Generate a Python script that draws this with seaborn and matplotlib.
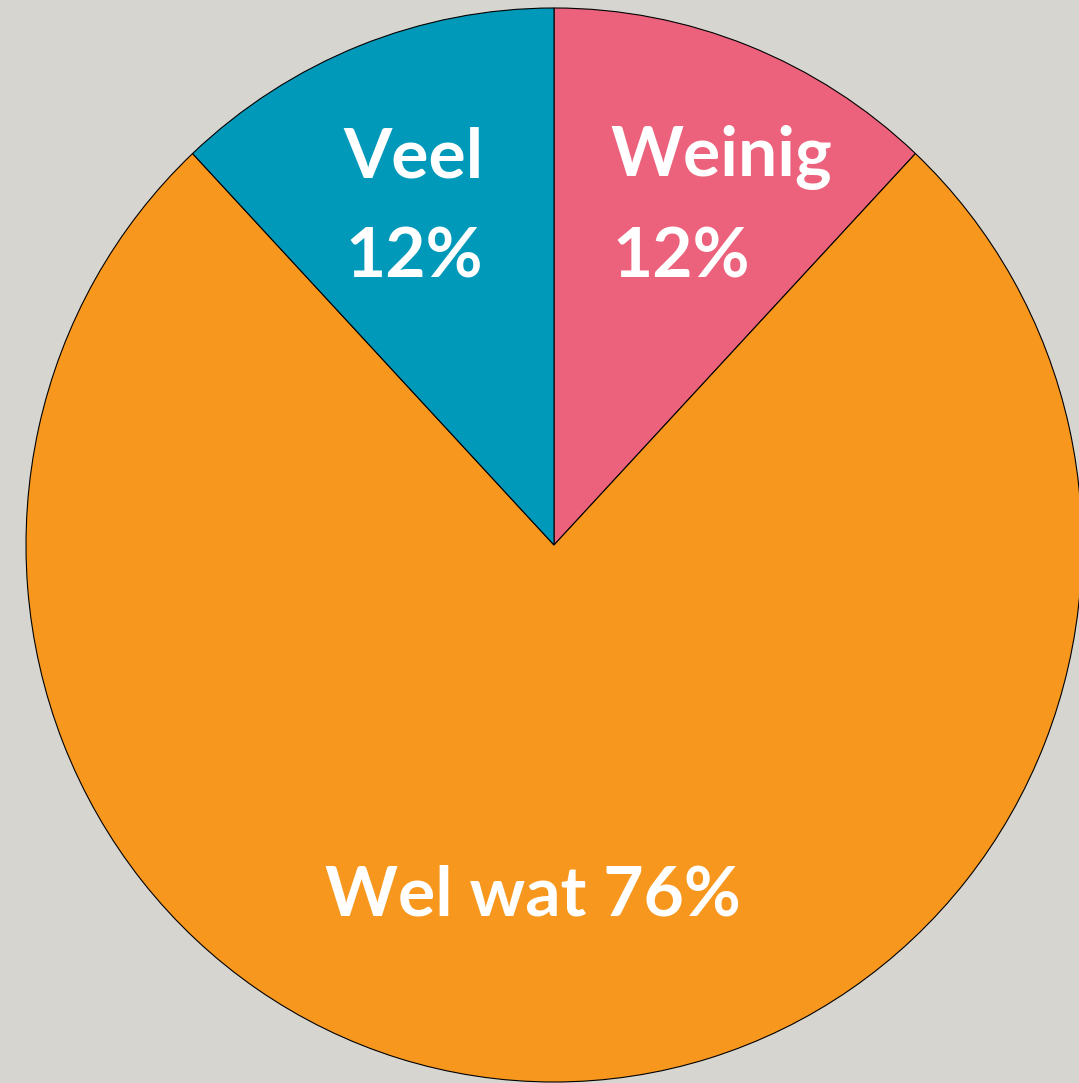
import matplotlib
matplotlib.use('Agg')
import matplotlib.pyplot as plt
import seaborn as sns

sns.set_style('white')
plt.rcParams['font.family'] = ['Lato', 'DejaVu Sans']

# data
labels = ['Weinig', 'Wel wat', 'Veel']
values = [12, 76, 12]
colors = ['#EC627C', '#F7971E', '#0099BA']
bg = '#D6D5D0'

W, H = 1079, 1083
cx, cy, rx, ry = 554, 545, 528, 537

fig = plt.figure(figsize=(W / 100, H / 100), dpi=100, facecolor=bg)
ax = fig.add_axes([0, 0, 1, 1])
ax.set_facecolor(bg)

ax.pie(values, colors=colors, startangle=90, counterclock=False,
       wedgeprops={'edgecolor': 'black', 'linewidth': 0.8})

ax.set_aspect('auto')
ax.set_xlim(-cx / rx, (W - cx) / rx)
ax.set_ylim((cy - H) / ry, cy / ry)
ax.axis('off')


def px(x, y):
    return (x - cx) / rx, (cy - y) / ry


# labels (white, bold), positions in pixel terms
txt = dict(color='white', fontweight='bold', fontsize=50)
ax.text(*px(343, 158), 'Veel', ha='left', va='center', **txt)
ax.text(*px(345, 258), f'{values[2]}%', ha='left', va='center', **txt)
ax.text(*px(610, 158), 'Weinig', ha='left', va='center', **txt)
ax.text(*px(612, 258), f'{values[0]}%', ha='left', va='center', **txt)
ax.text(*px(533, 896), f'Wel wat {values[1]}%', ha='center', va='center', **txt)

fig.savefig('out.png', dpi=100, facecolor=bg)
